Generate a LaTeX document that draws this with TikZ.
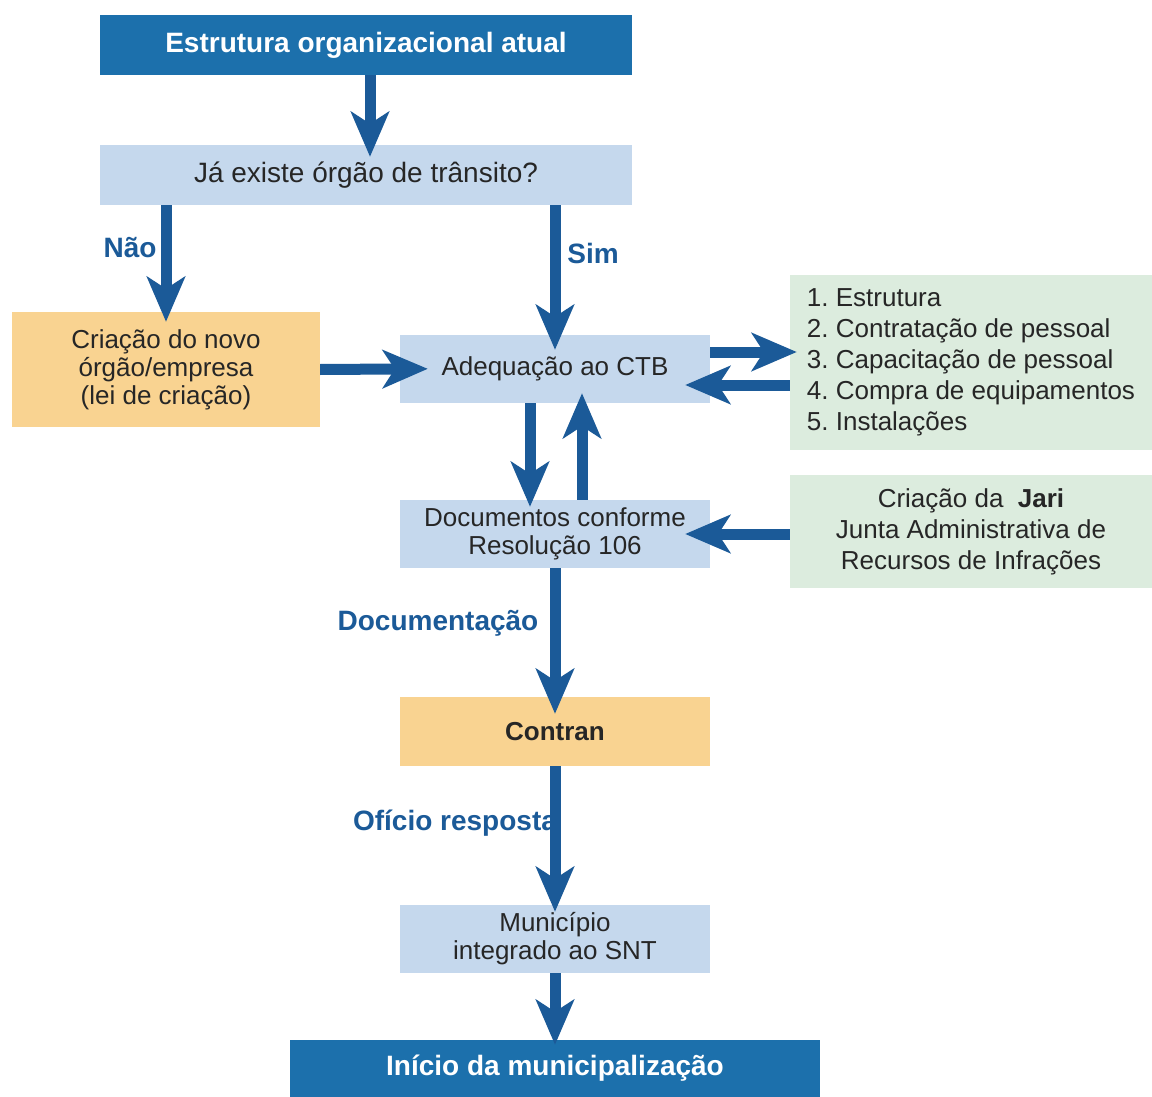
\documentclass[tikz,border=0pt]{standalone}
\usepackage{fontspec}
\setmainfont{Liberation Sans}
\usetikzlibrary{arrows.meta}
\usetikzlibrary{positioning}

\definecolor{caixaescura}{RGB}{28,112,172}
\definecolor{caixaazul}{RGB}{197,216,237}
\definecolor{caixalaranja}{RGB}{249,211,145}
\definecolor{caixaverde}{RGB}{220,236,222}
\definecolor{seta}{RGB}{27,90,152}

\tikzset{
  escura/.style={rectangle,fill=caixaescura,text=white,font=\fontsize{28}{32}\selectfont\bfseries,inner sep=0pt},
  clara/.style={rectangle,fill=caixaazul,text=black!85,font=\fontsize{26}{28}\selectfont,align=center,inner sep=0pt},
  laranja/.style={rectangle,fill=caixalaranja,text=black!85,font=\fontsize{26}{28}\selectfont,align=center,inner sep=0pt},
  verde/.style={rectangle,fill=caixaverde,text=black!85,font=\fontsize{26}{31}\selectfont\frenchspacing,inner sep=0pt},
  rotulo/.style={text=seta,font=\fontsize{28}{30}\selectfont\bfseries},
  fluxo/.style={draw=seta,line width=11pt,-{Stealth[length=45pt,width=38pt,inset=12pt]}}
}

\begin{document}
\begin{tikzpicture}[x=1pt,y=-1pt]
\useasboundingbox[fill=white] (0,0) rectangle (1152,1097);

\node[escura,minimum width=532pt,minimum height=60pt] (atual) at (366,45) {Estrutura organizacional atual};
\node[clara,minimum width=532pt,minimum height=60pt,font=\fontsize{28}{30}\selectfont] (existe) at (366,175) {Já existe órgão de trânsito?};
\node[laranja,minimum width=308pt,minimum height=115pt] (novo) at (166,369.5) {Criação do novo\\órgão/empresa\\(lei de criação)};
\node[clara,minimum width=310pt,minimum height=68pt] (ctb) at (555,369) {Adequação ao CTB};
\node[verde,minimum width=362pt,minimum height=175pt,align=left] (lista) at (971,362.5) {1. Estrutura\\2. Contratação de pessoal\\3. Capacitação de pessoal\\4. Compra de equipamentos\\5. Instalações};
\node[clara,minimum width=310pt,minimum height=68pt] (docs) at (555,534) {Documentos conforme\\Resolução 106};
\node[verde,minimum width=362pt,minimum height=113pt,align=center] (jari) at (971,531.5) {Criação da \ \textbf{Jari}\\Junta Administrativa de\\Recursos de Infrações};
\node[laranja,minimum width=310pt,minimum height=69pt,font=\fontsize{26}{28}\selectfont\bfseries] (contran) at (555,731.5) {Contran};
\node[clara,minimum width=310pt,minimum height=68pt] (snt) at (555,939) {Município\\integrado ao SNT};
\node[escura,minimum width=530pt,minimum height=57pt] (inicio) at (555,1068.5) {Início da municipalização};

% rotulos das setas
\node[rotulo] (nao) at (130,248) {Não};
\node[rotulo] (sim) at (593,253) {Sim};
\node[rotulo] (documentacao) at (438,623) {Documentação};
\node[rotulo] (oficio) at (455,823) {Ofício resposta};

% setas
\draw[fluxo,shorten >=-12pt] ([xshift=4pt]atual.south) -- ([xshift=4pt]existe.north);
\draw[fluxo,shorten >=-10pt] (existe.south -| novo.north) -- (novo.north);
\draw[fluxo,shorten >=-15pt] (existe.south -| ctb.north) -- (ctb.north);
\draw[fluxo,shorten >=-28pt] (novo.east) -- (ctb.west);
\draw[fluxo,shorten >=-7pt] ([yshift=17pt]ctb.east) -- ([yshift=17pt]ctb.east -| lista.west);
\draw[fluxo,shorten >=-25pt] ([yshift=-16pt]ctb.east -| lista.west) -- ([yshift=-16pt]ctb.east);
\draw[fluxo,shorten >=-7pt] ([xshift=-25pt]ctb.south) -- ([xshift=-25pt]docs.north);
\draw[fluxo,shorten >=-10pt] ([xshift=27pt]docs.north) -- ([xshift=27pt]ctb.south);
\draw[fluxo,shorten >=-25pt] (docs.east -| jari.west) -- (docs.east);
\draw[fluxo,shorten >=-17pt] (docs.south) -- (contran.north);
\draw[fluxo,shorten >=-7pt] (contran.south) -- (snt.north);
\draw[fluxo,shorten >=-5pt] (snt.south) -- (inicio.north);

\end{tikzpicture}
\end{document}
